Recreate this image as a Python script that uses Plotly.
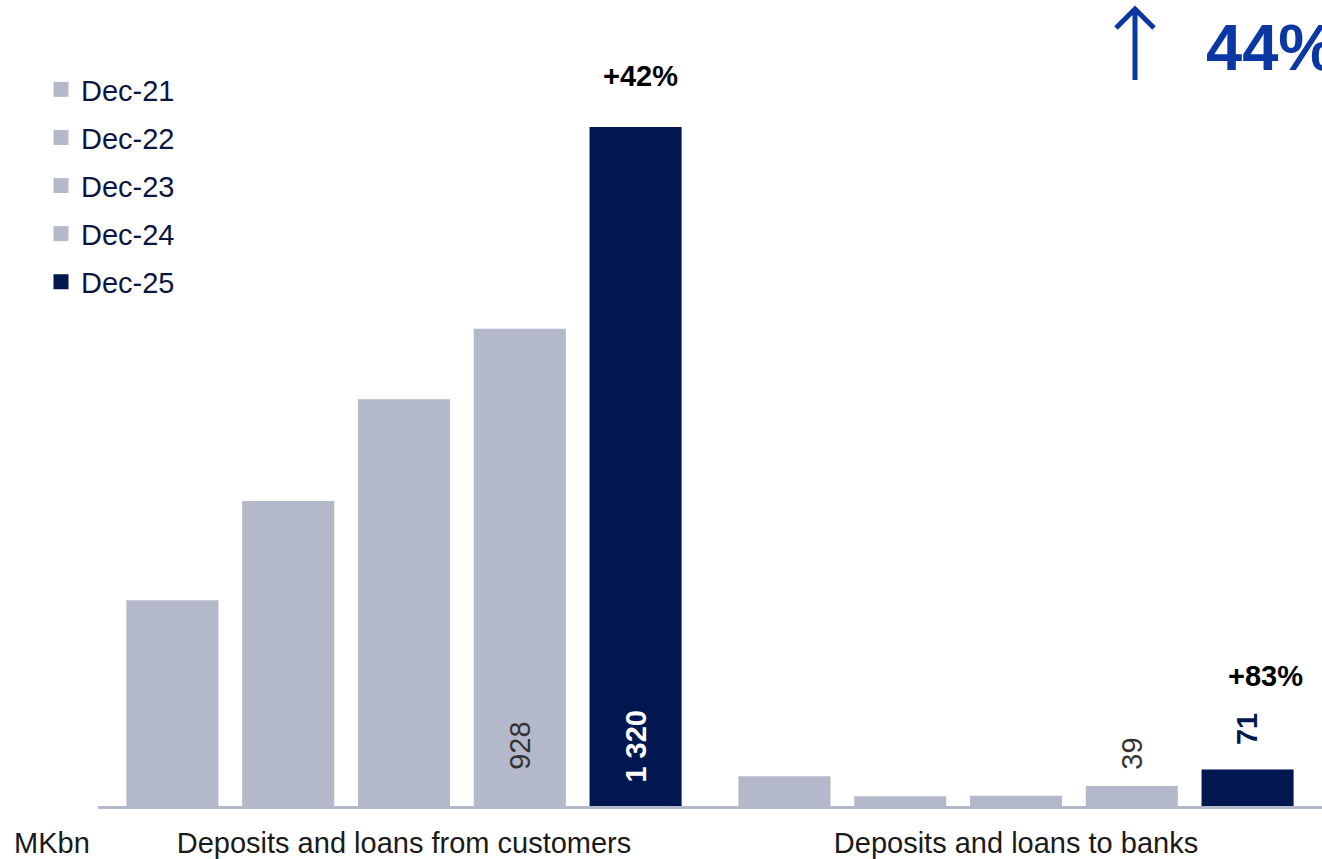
import plotly.graph_objects as go

# ---------------- data ----------------
categories = ["Deposits and loans from customers", "Deposits and loans to banks"]
periods = ["Dec-21", "Dec-22", "Dec-23", "Dec-24", "Dec-25"]
customers = [400, 593, 791, 928, 1320]
banks = [58, 19, 20, 39, 71]
growth_labels = ["+42%", "+83%"]
total_growth = "44%"
unit_label = "MKbn"

# ---------------- style ----------------
GRAY = "#b3b8cb"
NAVY = "#00184f"
BLUE = "#0a37a3"
FONT = "Liberation Sans, Arial, sans-serif"
FS = 29
bar_colors = [GRAY, GRAY, GRAY, GRAY, NAVY]

W, H = 1322, 859
ML, MR, MT, MB = 98, 0, 0, 53
BARGAP = 0.054
BARGROUPGAP = 0.205
YMAX = 1567

plot_w = W - ML - MR
plot_h = H - MT - MB
pitch = plot_w / len(categories) * (1 - BARGAP) / len(periods)


def fmt(v):
    return f"{v:,}".replace(",", " ")


def px_x(px):
    return (px - ML) / plot_w


def px_y(py):
    return (H - MB - py) / plot_h


fig = go.Figure()

for i, p in enumerate(periods):
    fig.add_trace(go.Bar(
        x=categories,
        y=[customers[i], banks[i]],
        name=p,
        marker=dict(color=bar_colors[i], line=dict(width=0)),
        showlegend=False,
        legendgroup=p,
    ))
    # legend entry
    fig.add_trace(go.Scatter(
        x=[None], y=[None], mode="markers", name=p, legendgroup=p,
        marker=dict(symbol="square", size=15, color=bar_colors[i]),
        showlegend=True,
    ))

series = [customers, banks]
annotations = []
last = len(periods) - 1
prev = len(periods) - 2
# value labels
for g, cat in enumerate(categories):
    vals = series[g]
    for idx in (prev, last):
        v = vals[idx]
        bold = idx == last
        txt = f"<b>{fmt(v)}</b>" if bold else fmt(v)
        if g == 0:
            color = "white" if bold else "#333333"
            y, ys = 0, 60
        else:
            color = NAVY if bold else "#333333"
            y, ys = v, (40 if bold else 32)
        annotations.append(dict(
            x=cat, y=y, xref="x", yref="y", text=txt, showarrow=False,
            textangle=-90, xanchor="center", yanchor="middle",
            xshift=(idx - 2) * pitch, yshift=ys,
            font=dict(family=FONT, size=FS, color=color),
        ))
    annotations.append(dict(
        x=cat, y=vals[last], xref="x", yref="y",
        text=f"<b>{growth_labels[g]}</b>", showarrow=False,
        xanchor="center", yanchor="middle",
        xshift=(last - 2) * pitch + (5 if g == 0 else 18),
        yshift=51 if g == 0 else 93,
        font=dict(family=FONT, size=FS, color="#000000"),
    ))

annotations.append(dict(
    x=px_x(12), y=px_y(843), xref="paper", yref="paper", text=unit_label,
    showarrow=False, xanchor="left", yanchor="middle",
    font=dict(family=FONT, size=FS, color="#1a1a1a"),
))
annotations.append(dict(
    x=px_x(1204), y=px_y(47), xref="paper", yref="paper",
    text=f"<b>{total_growth}</b>", showarrow=False, xanchor="left", yanchor="middle",
    font=dict(family=FONT, size=65, color=BLUE),
))

# up arrow decoration
ax = px_x(1135)
path = (f"M {px_x(1116)},{px_y(28)} L {ax},{px_y(9)} L {px_x(1154)},{px_y(28)} "
        f"M {ax},{px_y(9)} L {ax},{px_y(80)}")
shapes = [dict(type="path", xref="paper", yref="paper", path=path,
               line=dict(color=BLUE, width=5))]

fig.update_layout(
    width=W, height=H,
    margin=dict(l=ML, r=MR, t=MT, b=MB, pad=0),
    paper_bgcolor="white", plot_bgcolor="white",
    barmode="group", bargap=BARGAP, bargroupgap=BARGROUPGAP,
    font=dict(family=FONT, size=FS, color="#1a1a1a"),
    xaxis=dict(
        type="category", categoryorder="array", categoryarray=categories,
        range=[-0.5, 1.5], showline=True, linecolor=GRAY, linewidth=3,
        ticks="", showgrid=False, zeroline=False, ticklabelstandoff=9,
        tickfont=dict(family=FONT, size=FS, color="#1a1a1a"),
    ),
    yaxis=dict(range=[0, YMAX], visible=False, showgrid=False, zeroline=False),
    legend=dict(
        x=px_x(41), y=px_y(64), xanchor="left", yanchor="top",
        font=dict(family=FONT, size=FS, color="#0d1640"),
        bgcolor="rgba(0,0,0,0)", borderwidth=0,
        traceorder="grouped", tracegroupgap=7.4,
    ),
    annotations=annotations,
    shapes=shapes,
    showlegend=True,
)

fig.write_html("out.html")
